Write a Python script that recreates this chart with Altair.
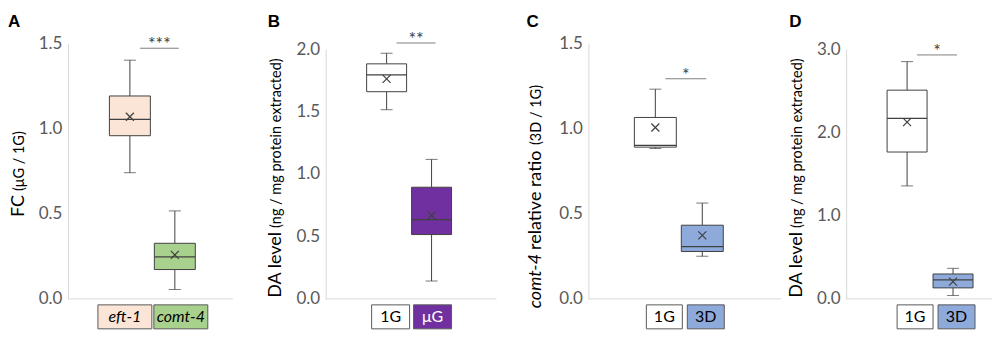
import altair as alt
import pandas as pd

FONT = "Lato"
EDGE = "#404040"
AXIS_GREY = "#d9d9d9"

# ---------------- data ----------------
a_groups = ["eft-1", "comt-4"]
a_low = [0.74, 0.055]
a_q1 = [0.957, 0.172]
a_median = [1.053, 0.246]
a_q3 = [1.19, 0.326]
a_high = [1.40, 0.516]
a_mean = [1.068, 0.258]
a_ticks = [0.0, 0.5, 1.0, 1.5]
a_sig = "***"
a_sig_y = 1.47
a_title = ["FC", "(μG / 1G)"]

b_groups = ["1G", "μG"]
b_low = [1.515, 0.143]
b_q1 = [1.659, 0.515]
b_median = [1.794, 0.634]
b_q3 = [1.882, 0.894]
b_high = [1.967, 1.117]
b_mean = [1.762, 0.669]
b_ticks = [0.0, 0.5, 1.0, 1.5, 2.0]
b_sig = "**"
b_sig_y = 2.049
b_title = ["DA level", "(ng / mg protein extracted)"]

c_groups = ["1G", "3D"]
c_low = [0.882, 0.25]
c_q1 = [0.89, 0.278]
c_median = [0.90, 0.307]
c_q3 = [1.064, 0.432]
c_high = [1.23, 0.562]
c_mean = [1.005, 0.372]
c_ticks = [0.0, 0.5, 1.0, 1.5]
c_sig = "*"
c_sig_y = 1.291
c_title = ["comt-4", "relative ratio", "(3D / 1G)"]

d_groups = ["1G", "3D"]
d_low = [1.357, 0.04]
d_q1 = [1.764, 0.132]
d_median = [2.167, 0.228]
d_q3 = [2.507, 0.299]
d_high = [2.85, 0.367]
d_mean = [2.123, 0.207]
d_ticks = [0.0, 1.0, 2.0, 3.0]
d_sig = "*"
d_sig_y = 2.93
d_title = ["DA level", "(ng / mg protein extracted)"]

# ---------------- styling ----------------
a_fills = ["#fbe5d6", "#a9d18e"]
b_fills = ["#ffffff", "#7030a0"]
c_fills = ["#ffffff", "#8eaadb"]
d_fills = ["#ffffff", "#8eaadb"]

H = 256
BIG = 18
SMALL = 14.5
XSHAPE = "M-1,-1L1,1M1,-1L-1,1"
ONE = alt.Data(values=[{"k": 0}])


def ann(text, x, y, **kw):
    return alt.Chart(ONE).mark_text(**kw).encode(
        x=alt.value(x), y=alt.value(y), text=alt.value(text)
    )


def panel(letter, groups, low, q1, med, q3, high, mean, ticks, sig, sig_y,
          title, fills, geo):
    df = pd.DataFrame({"group": groups, "low": low, "q1": q1, "median": med,
                       "q3": q3, "high": high, "mean": mean})
    xs = alt.Scale(domain=groups, range=geo["xr"], paddingInner=0,
                   paddingOuter=0)
    ys = alt.Scale(domain=[0, ticks[-1]], range=[H, geo["top"]], nice=False)
    yax = alt.Axis(values=ticks, format=".1f", ticks=False, grid=False,
                   domainColor=AXIS_GREY, labelColor="#595959",
                   labelFont=FONT, labelFontSize=17, labelPadding=6,
                   title=None)
    X = alt.X("group:N", scale=xs, axis=None, sort=groups)

    def Y(f):
        return alt.Y(f"{f}:Q", scale=ys, axis=yax)

    col = alt.Color("group:N", scale=alt.Scale(domain=groups, range=fills),
                    legend=None)
    base = alt.Chart(df)

    layers = []
    layers.append(alt.Chart(ONE).mark_rule(color=AXIS_GREY, strokeWidth=1).encode(
        x=alt.value(0), x2=alt.value(geo["base"]), y=alt.value(H)))
    layers.append(base.mark_rule(color=EDGE, strokeWidth=1).encode(
        x=X, y=Y("low"), y2=alt.Y2("q1:Q")))
    layers.append(base.mark_rule(color=EDGE, strokeWidth=1).encode(
        x=X, y=Y("q3"), y2=alt.Y2("high:Q")))
    layers.append(base.mark_tick(color=EDGE, size=12, thickness=1).encode(
        x=X, y=Y("low")))
    layers.append(base.mark_tick(color=EDGE, size=12, thickness=1).encode(
        x=X, y=Y("high")))
    layers.append(base.mark_bar(size=geo["bw"], stroke=EDGE, strokeWidth=1,
                                opacity=1).encode(
        x=X, y=Y("q1"), y2=alt.Y2("q3:Q"), color=col))
    layers.append(base.mark_tick(color=EDGE, size=geo["bw"], thickness=1.3,
                                 opacity=1).encode(x=X, y=Y("median")))
    layers.append(base.mark_point(shape=XSHAPE, size=64, filled=False,
                                  color=EDGE, strokeWidth=1.2,
                                  opacity=1).encode(x=X, y=Y("mean")))

    sdf = pd.DataFrame({"g1": [groups[0]], "g2": [groups[1]],
                        "y": [sig_y], "s": [sig]})
    sx = alt.X("g1:N", scale=xs, axis=None)
    layers.append(alt.Chart(sdf).mark_rule(color="#7f7f7f", strokeWidth=1,
                                           xOffset=10, x2Offset=4).encode(
        x=sx, x2=alt.X2("g2:N"), y=alt.Y("y:Q", scale=ys, axis=yax)))
    layers.append(alt.Chart(sdf).mark_text(
        dx=geo["step"] / 2 + 7, dy=2, baseline="alphabetic", font=FONT,
        fontSize=18, color=EDGE).encode(
        x=sx, y=alt.Y("y:Q", scale=ys, axis=yax), text="s:N"))

    for i, g in enumerate(groups):
        sub = base.transform_filter(alt.datum.group == g)
        layers.append(sub.mark_bar(size=geo["lw"][i], xOffset=geo["lo"][i],
                                   stroke="#595959", strokeWidth=1,
                                   opacity=1).encode(
            x=X, y=alt.value(H + 6), y2=alt.value(H + 30), color=col))
        layers.append(sub.mark_text(
            dx=geo["lo"][i], font=FONT, fontSize=16, baseline="middle",
            fontStyle=geo["lstyle"], color=geo["lcol"][i]).encode(
            x=X, y=alt.value(H + 18.5), text="group:N"))

    # axis title pieces (rotated)
    tx = geo["tx"]
    for piece in geo["tparts"]:
        txt, yy, al, sz, st = piece
        layers.append(ann(txt, tx, yy, angle=270, align=al,
                          baseline="alphabetic", font=FONT, fontSize=sz,
                          fontStyle=st, color="#000000"))
    # panel letter
    layers.append(ann(letter, geo["lx"], -29, align="left", baseline="top",
                      font="Liberation Sans", fontWeight="bold",
                      fontSize=17, color="#000000"))

    return alt.layer(*layers).properties(width=geo["w"], height=H)


geoA = dict(w=166, base=165, xr=[39.5, 129.5], step=45, top=0, bw=41,
            lw=[54, 54], lo=[-5, 6], lstyle="italic", lcol=["#000", "#000"],
            tx=-44, lx=-60,
            tparts=[(a_title[0], 152, "right", BIG, "normal"),
                    (a_title[1], 148, "left", SMALL, "normal")])
geoB = dict(w=171, base=171, xr=[38.5, 128.5], step=45, top=6, bw=40,
            lw=[38, 38], lo=[4, 1], lstyle="normal",
            lcol=["#000", "#ffffff"], tx=-45, lx=-58,
            tparts=[(b_title[0], 189, "right", BIG, "normal"),
                    (b_title[1], 185, "left", SMALL, "normal")])
geoC = dict(w=166, base=193, xr=[43.5, 137.5], step=47, top=0, bw=42,
            lw=[36, 37], lo=[9, 3.5], lstyle="normal",
            lcol=["#000", "#000"], tx=-47, lx=-62,
            tparts=[(c_title[0], 211, "right", BIG, "italic"),
                    (c_title[1], 207, "left", BIG, "normal"),
                    (c_title[2], 102, "left", SMALL, "normal")])
geoD = dict(w=146, base=146, xr=[38, 130], step=46, top=6, bw=40,
            lw=[36, 37], lo=[8, 3.5], lstyle="normal",
            lcol=["#000", "#000"], tx=-44, lx=-57,
            tparts=[(d_title[0], 189, "right", BIG, "normal"),
                    (d_title[1], 185, "left", SMALL, "normal")])

pA = panel("A", a_groups, a_low, a_q1, a_median, a_q3, a_high, a_mean,
           a_ticks, a_sig, a_sig_y, a_title, a_fills, geoA)
pB = panel("B", b_groups, b_low, b_q1, b_median, b_q3, b_high, b_mean,
           b_ticks, b_sig, b_sig_y, b_title, b_fills, geoB)
pC = panel("C", c_groups, c_low, c_q1, c_median, c_q3, c_high, c_mean,
           c_ticks, c_sig, c_sig_y, c_title, c_fills, geoC)
pD = panel("D", d_groups, d_low, d_q1, d_median, d_q3, d_high, d_mean,
           d_ticks, d_sig, d_sig_y, d_title, d_fills, geoD)

chart = alt.hconcat(pA, pB, pC, pD, spacing=92, bounds="flush").resolve_scale(
    color="independent", x="independent", y="independent"
).properties(
    padding={"left": 0, "top": 5, "right": 0, "bottom": 0}
).configure_view(stroke=None)

chart.save("out.html", embed_options={"renderer": "svg", "actions": False})
